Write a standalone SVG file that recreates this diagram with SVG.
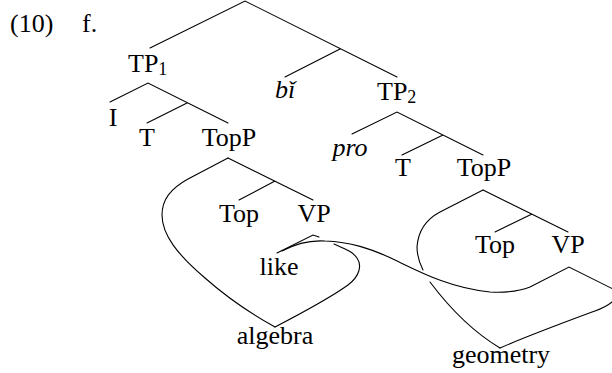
<svg xmlns="http://www.w3.org/2000/svg" width="612" height="373" viewBox="0 0 612 373">
<style>
text{font-family:"Liberation Serif","Times New Roman",serif;font-size:26px;fill:#000}
.m{text-anchor:middle}
.i{font-style:italic}
.sub{font-size:18px}
.e{fill:none;stroke:#000;stroke-width:1.1;stroke-linecap:round;stroke-linejoin:miter}
</style>
<rect width="612" height="373" fill="#fff"/>
<g id="example-label">
<text x="10" y="32">(10)</text>
<text x="82" y="32">f.</text>
</g>
<g id="connectors">
<path class="e" d="M150,48 L245,1 L397,77 M340,49 L285,77"/>
<path class="e" d="M110,102 L148,83 L228,123 M187,103 L147,123"/>
<path class="e" d="M352,134 L397,112 L483,155 M443,135 L402,155"/>
<path class="e" d="M228,158 L313,200 M275,181 L239,200"/>
<path class="e" d="M228,158 L188,179 C170,189 162,200 162,215 C162,235 178,255 205,278 C230,300 255,316 275,327"/>
<path class="e" d="M275,327 C300,314 330,298 348,285 C360,276 362,265 357,258 C352,251 345,249 334,244"/>
<path class="e" d="M277,253 L313,235 L319,237"/>
<path class="e" d="M282,251 C295,244 310,240 325,241 C350,242 370,248 395,260 C420,272 450,288 490,292 C510,293 520,291 530,287 L569,267 L615,290"/>
<path class="e" d="M615,299 C610,305 603,308 595,311 C560,324 530,335 500,348"/>
<path class="e" d="M430,282 C445,302 470,330 500,348"/>
<path class="e" d="M483,190 L568,232 M532,214 L495,232"/>
<path class="e" d="M483,190 L440,212 C425,220 418,232 417,247 C417,255 419,262 423,270"/>
</g>
<g id="n-TP1"><text x="128" y="72">TP<tspan class="sub" dy="3">1</tspan></text></g>
<g id="n-bi"><text class="m i" x="285" y="98">bǐ</text></g>
<g id="n-TP2"><text x="377" y="100">TP<tspan class="sub" dy="3">2</tspan></text></g>
<g id="n-I"><text class="m" x="113" y="126">I</text></g>
<g id="n-T1"><text class="m" x="147" y="146">T</text></g>
<g id="n-TopP1"><text class="m" x="229" y="146">TopP</text></g>
<g id="n-pro"><text class="m i" x="350" y="156">pro</text></g>
<g id="n-T2"><text class="m" x="403" y="176">T</text></g>
<g id="n-TopP2"><text class="m" x="484" y="176">TopP</text></g>
<g id="n-Top1"><text class="m" x="239" y="222">Top</text></g>
<g id="n-VP1"><text class="m" x="314" y="222">VP</text></g>
<g id="n-like"><text class="m" x="279" y="275">like</text></g>
<g id="n-algebra"><text class="m" x="275" y="344">algebra</text></g>
<g id="n-Top2"><text class="m" x="495" y="253">Top</text></g>
<g id="n-VP2"><text class="m" x="568" y="253">VP</text></g>
<g id="n-geometry"><text class="m" x="501" y="363">geometry</text></g>
</svg>
